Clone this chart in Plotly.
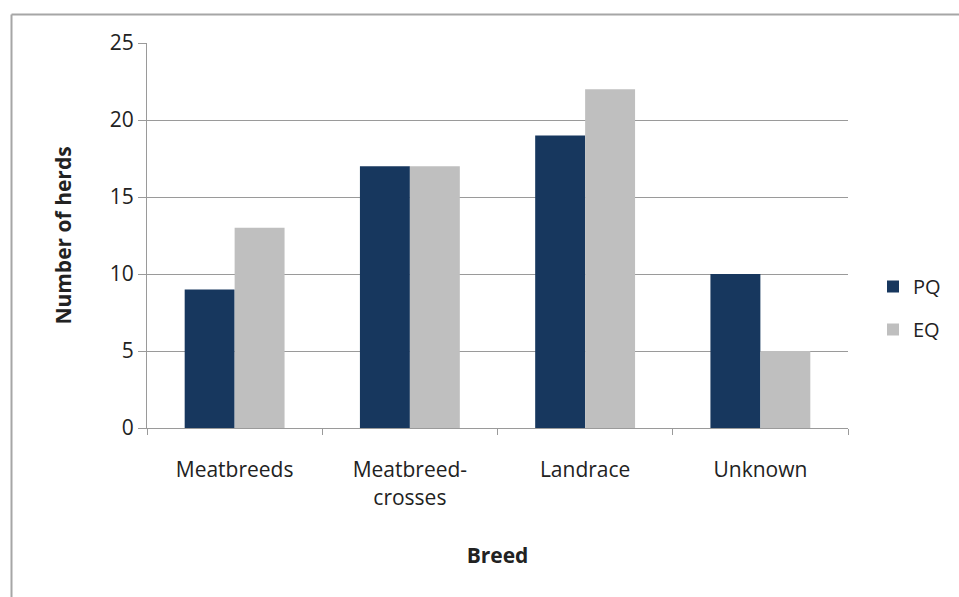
import plotly.graph_objects as go

categories = ["Meatbreeds", "Meatbreed-<br>crosses", "Landrace", "Unknown"]
pq_values = [9, 17, 19, 10]
eq_values = [13, 17, 22, 5]
y_ticks = [0, 5, 10, 15, 20, 25]

W, H = 959, 597
L, R, T, B = 147, 111, 43, 169
pw, ph = W - L - R, H - T - B

def px(x):
    return (x - L) / pw

def py(y):
    return (H - B - y) / ph

fig = go.Figure()
fig.add_trace(go.Bar(name="PQ", x=categories, y=pq_values, marker_color="#17375E",
                     marker_line_width=0, legendgroup="a"))
fig.add_trace(go.Bar(name="EQ", x=categories, y=eq_values, marker_color="#BFBFBF",
                     marker_line_width=0, legendgroup="b"))

font_family = "Open Sans, Liberation Sans, sans-serif"
fig.update_layout(
    width=W, height=H,
    margin=dict(l=L, r=R, t=T, b=B, autoexpand=False),
    paper_bgcolor="white", plot_bgcolor="white",
    barmode="group", bargap=0.43, bargroupgap=0,
    font=dict(family=font_family, size=21, color="#222222"),
    showlegend=True,
    legend=dict(x=px(873), y=py(308), xanchor="left", yanchor="middle",
                font=dict(size=20), itemwidth=30, tracegroupgap=14,
                traceorder="grouped", bgcolor="rgba(0,0,0,0)"),
    xaxis=dict(
        type="category", showgrid=False, showline=True, linecolor="#9a9a9a",
        ticks="outside", tickson="boundaries", ticklen=6, tickcolor="#9a9a9a",
        tickfont=dict(size=21), ticklabelstandoff=23,
        title=dict(text="<b>Breed</b>", font=dict(size=21), standoff=38),
    ),
    yaxis=dict(
        range=[0, 25], tickvals=y_ticks, showgrid=True, gridcolor="#9a9a9a", gridwidth=1,
        showline=True, linecolor="#9a9a9a", ticks="outside", ticklen=8, tickcolor="#9a9a9a",
        tickfont=dict(size=21), zeroline=False,
        title=dict(text="<b>Number of herds</b>", font=dict(size=21), standoff=32),
    ),
)

# outer chart border (top and left edges visible)
fig.add_shape(type="line", xref="paper", yref="paper",
              x0=px(11.5), x1=px(959), y0=py(14.5), y1=py(14.5),
              line=dict(color="#a6a6a6", width=2))
fig.add_shape(type="line", xref="paper", yref="paper",
              x0=px(11.5), x1=px(11.5), y0=py(14.5), y1=py(597),
              line=dict(color="#a6a6a6", width=2))

fig.write_html("out.html", config={"displayModeBar": False},
               post_script="document.body.style.margin='0px';document.body.style.overflow='hidden';")
